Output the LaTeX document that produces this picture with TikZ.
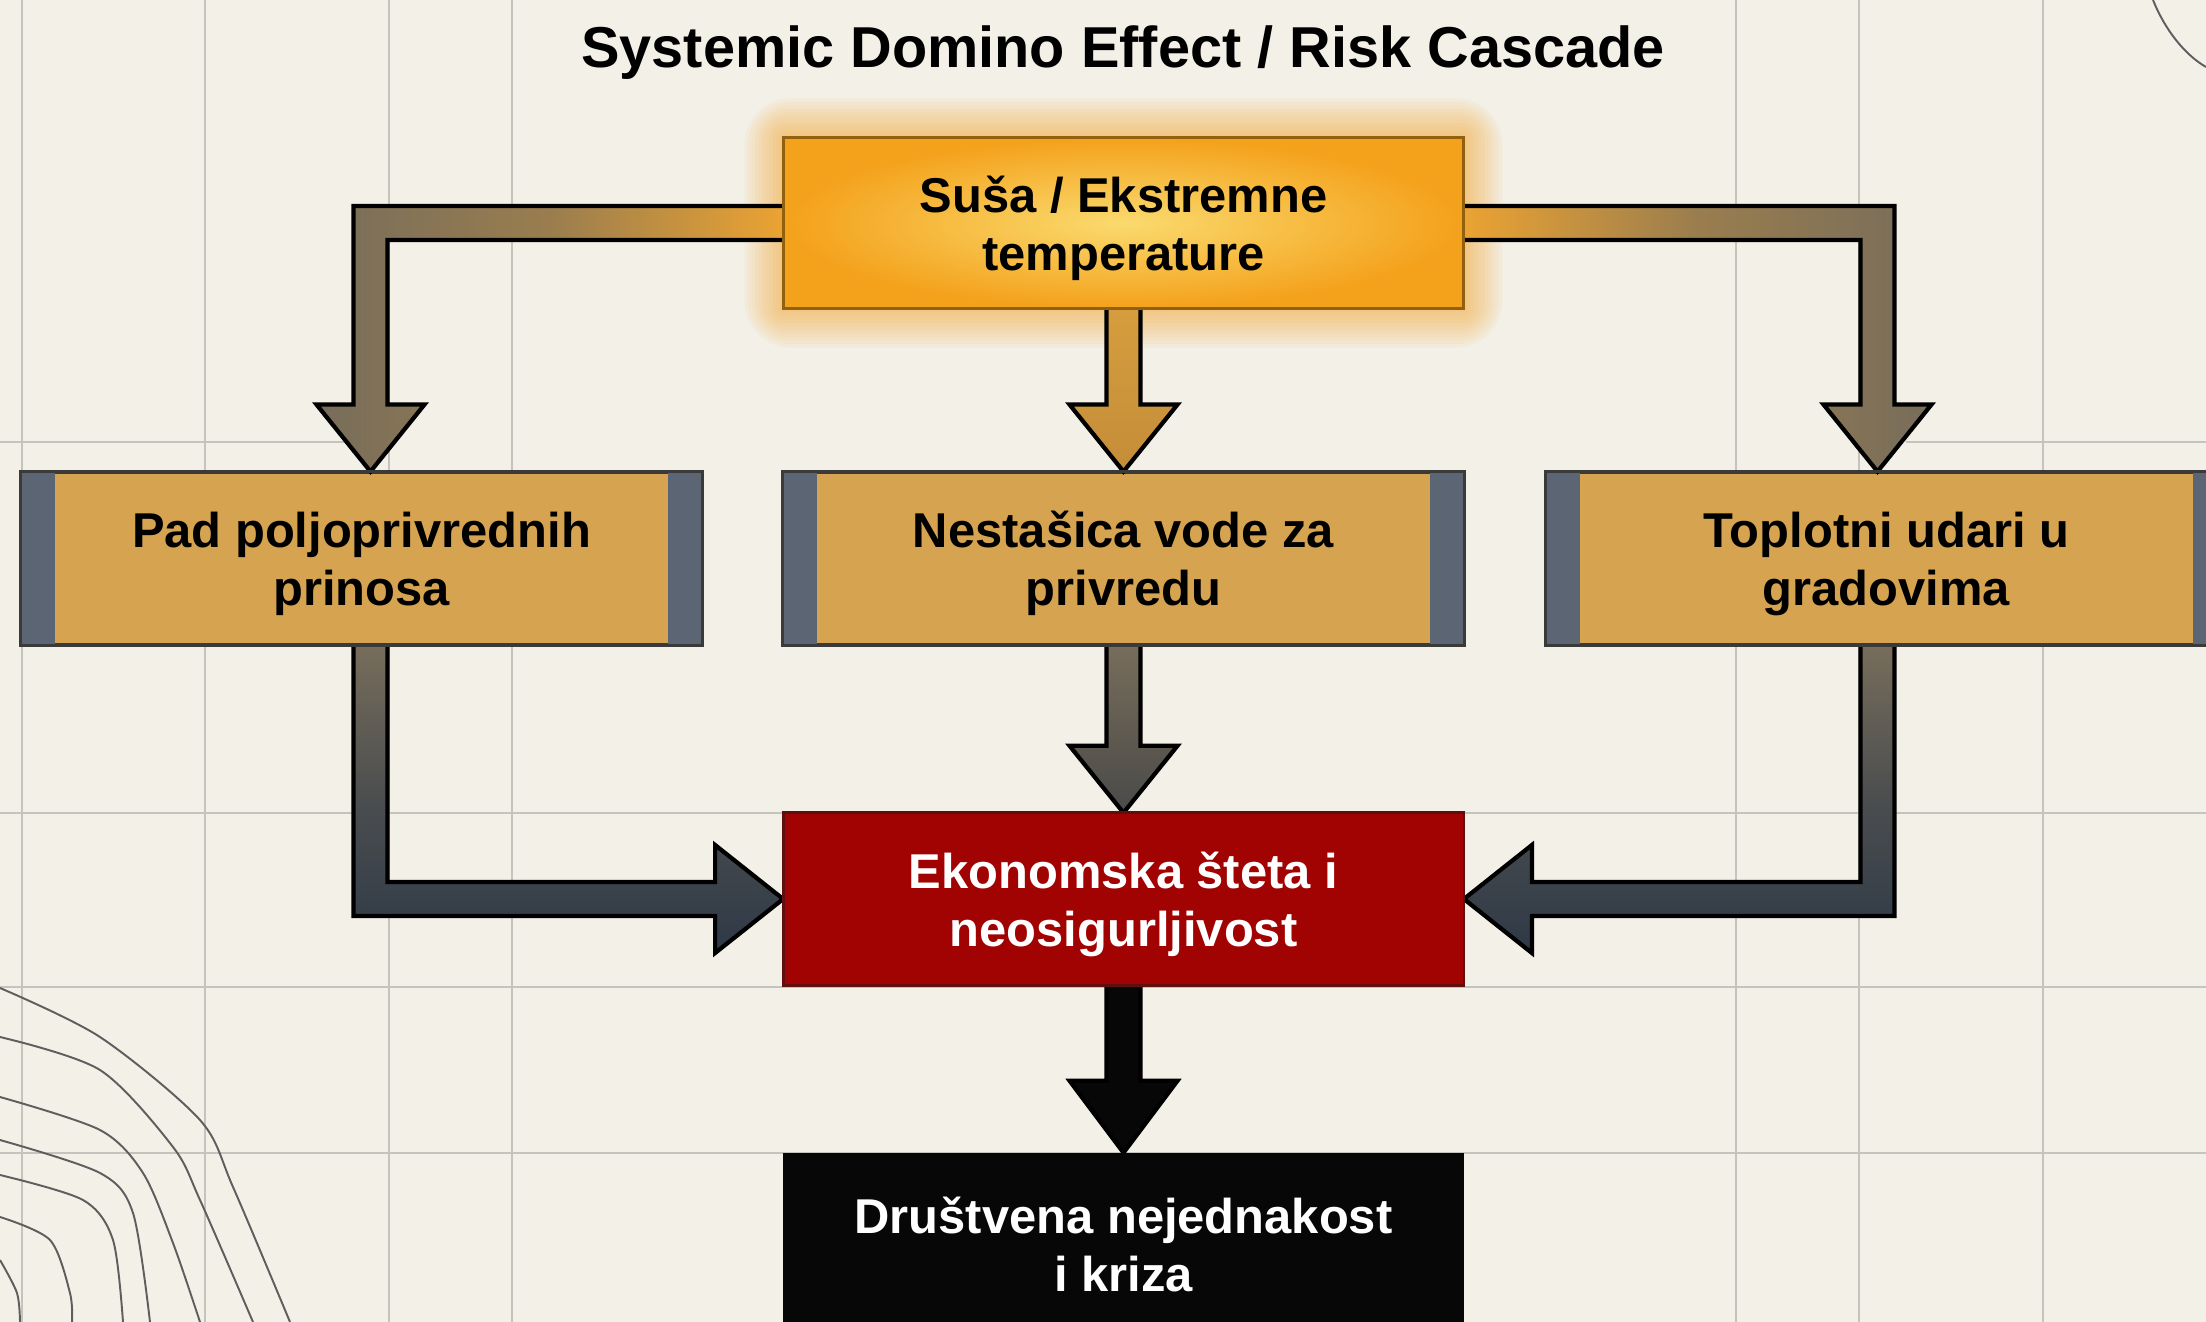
\documentclass[tikz,border=0pt]{standalone}
\usepackage{fontspec}
\setmainfont{Liberation Sans}
\usetikzlibrary{calc}
\definecolor{bg}{HTML}{F2F0E7}
\definecolor{gridc}{HTML}{C4C3BD}
\definecolor{contc}{HTML}{5E5E5E}
\definecolor{tan}{HTML}{D6A450}
\definecolor{stripec}{HTML}{5B6573}
\definecolor{boxline}{HTML}{3A3A3A}
\definecolor{orin}{HTML}{FADA6E}
\definecolor{orout}{HTML}{F4A11B}
\definecolor{glowc}{HTML}{F6A62A}
\definecolor{redc}{HTML}{A10303}
\definecolor{redline}{HTML}{5E1010}
\definecolor{blackc}{HTML}{070707}
\definecolor{agray}{HTML}{776D5B}
\definecolor{aorange}{HTML}{EBA332}
\definecolor{atan}{HTML}{D69D3E}
\definecolor{atan2}{HTML}{C48D38}
\definecolor{aslate}{HTML}{2E3947}
\definecolor{adark}{HTML}{4A4A48}
\begin{document}
\begin{tikzpicture}[x=0.01cm,y=-0.01cm,
  boxtext/.style={inner sep=0pt, align=center, minimum width=6.79cm, minimum height=1.71cm,
    font=\bfseries\fontsize{13.9}{16.5}\selectfont},
  label/.style={inner sep=0pt, align=center, yshift=-0.05cm,
    font=\bfseries\fontsize{13.9}{16.5}\selectfont},
  tanbox/.style={boxtext, fill=tan, draw=boxline, line width=0.8pt, text=black},
  stripe/.style={fill=stripec},
  fatarrow/.style={draw=black, line width=1.2pt, line join=miter},
  gridline/.style={draw=gridc, line width=0.8pt},
  contour/.style={draw=contc, line width=0.55pt}]
\useasboundingbox (0,0) rectangle (2206,1322);
\clip (0,0) rectangle (2206,1322);
\fill[bg] (0,0) rectangle (2206,1322);
% grid
\foreach \gx in {22,205,389,512,1736,1859,2043}
  \draw[gridline] (\gx,0) -- (\gx,1322);
\foreach \gy in {813,987,1153}
  \draw[gridline] (0,\gy) -- (2206,\gy);
\draw[gridline] (0,442) -- (389,442);
\draw[gridline] (1906,442) -- (2206,442);
% contour lines
\draw[contour] plot[smooth] coordinates {(0,988) (100,1037) (200,1120) (233,1187) (290,1322)};
\draw[contour] plot[smooth] coordinates {(0,1037) (100,1070) (173,1147) (200,1200) (253,1322)};
\draw[contour] plot[smooth] coordinates {(0,1097) (100,1130) (143,1173) (173,1243) (200,1322)};
\draw[contour] plot[smooth] coordinates {(0,1140) (100,1173) (133,1213) (150,1322)};
\draw[contour] plot[smooth] coordinates {(0,1175) (83,1200) (113,1240) (123,1322)};
\draw[contour] plot[smooth] coordinates {(0,1217) (50,1240) (70,1293) (72,1322)};
\draw[contour] plot[smooth] coordinates {(0,1260) (17,1293) (20,1322)};
\draw[contour] (2153,0) .. controls (2165,30) and (2185,55) .. (2206,67);
% title
\node[anchor=base, font=\bfseries\fontsize{16.4}{19}\selectfont] (title) at (1123,68) {Systemic Domino Effect / Risk Cascade};
% node placement (boxes)
\node[boxtext] (top) at (1123.5,223) {};
\foreach \i in {1,...,11}
  \fill[glowc, opacity=0.06, rounded corners=\i*1.2pt]
    ($(top.north west)+(-\i*3.5,-\i*3.5)$) rectangle ($(top.south east)+(\i*3.5,\i*3.5)$);
\node[tanbox] (pad) at (361.5,558.5) {};
\node[tanbox] (nes) at (1123.5,558.5) {};
\node[tanbox] (topl) at (1886.5,558.5) {};
\node[boxtext] (eco) at (1123.5,899) {};
\node[boxtext] (dru) at (1123.5,1239) {};
% arrows from top
\coordinate (tipL) at ($(pad.north)+(9,0)$);
\coordinate (cL) at (top.west -| tipL);
\path[fatarrow, left color=agray, right color=aorange, middle color=agray!70!aorange]
  ($(top.west)+(0,-17)$) -- ($(cL)+(-17,-17)$) -- ($(tipL)+(-17,-67)$) -- ($(tipL)+(-54,-67)$)
  -- (tipL) -- ($(tipL)+(54,-67)$) -- ($(tipL)+(17,-67)$) -- ($(cL)+(17,17)$) -- ($(top.west)+(0,17)$);
\coordinate (tipR) at ($(topl.north)+(-9,0)$);
\coordinate (cR) at (top.east -| tipR);
\path[fatarrow, right color=agray, left color=aorange, middle color=agray!70!aorange]
  ($(top.east)+(0,-17)$) -- ($(cR)+(17,-17)$) -- ($(tipR)+(17,-67)$) -- ($(tipR)+(54,-67)$)
  -- (tipR) -- ($(tipR)+(-54,-67)$) -- ($(tipR)+(-17,-67)$) -- ($(cR)+(-17,17)$) -- ($(top.east)+(0,17)$);
\path[fatarrow, top color=atan, bottom color=atan2]
  ($(top.south)+(-17,0)$) -- ($(nes.north)+(-17,-67)$) -- ($(nes.north)+(-54,-67)$) -- (nes.north)
  -- ($(nes.north)+(54,-67)$) -- ($(nes.north)+(17,-67)$) -- ($(top.south)+(17,0)$);
% arrows to economic box
\coordinate (sL) at ($(pad.south)+(9,0)$);
\coordinate (dL) at (sL |- eco.west);
\path[fatarrow, top color=agray, bottom color=aslate, middle color=agray!40!aslate]
  ($(sL)+(-17,0)$) -- ($(dL)+(-17,17)$) -- ($(eco.west)+(-68,17)$) -- ($(eco.west)+(-68,54)$)
  -- (eco.west) -- ($(eco.west)+(-68,-54)$) -- ($(eco.west)+(-68,-17)$) -- ($(dL)+(17,-17)$) -- ($(sL)+(17,0)$);
\coordinate (sR) at ($(topl.south)+(-9,0)$);
\coordinate (dR) at (sR |- eco.east);
\path[fatarrow, top color=agray, bottom color=aslate, middle color=agray!40!aslate]
  ($(sR)+(17,0)$) -- ($(dR)+(17,17)$) -- ($(eco.east)+(68,17)$) -- ($(eco.east)+(68,54)$)
  -- (eco.east) -- ($(eco.east)+(68,-54)$) -- ($(eco.east)+(68,-17)$) -- ($(dR)+(-17,-17)$) -- ($(sR)+(-17,0)$);
\path[fatarrow, top color=agray, bottom color=adark]
  ($(nes.south)+(-17,0)$) -- ($(eco.north)+(-17,-67)$) -- ($(eco.north)+(-54,-67)$) -- (eco.north)
  -- ($(eco.north)+(54,-67)$) -- ($(eco.north)+(17,-67)$) -- ($(nes.south)+(17,0)$);
\path[fatarrow, fill=blackc]
  ($(eco.south)+(-17,0)$) -- ($(dru.north)+(-17,-72)$) -- ($(dru.north)+(-54,-72)$) -- (dru.north)
  -- ($(dru.north)+(54,-72)$) -- ($(dru.north)+(17,-72)$) -- ($(eco.south)+(17,0)$);
% boxes on top
\node[boxtext, inner color=orin, outer color=orout, draw=orout!60!black, line width=0.8pt] at (top) {};
\foreach \b in {pad,nes,topl}{
  \fill[stripe] (\b.north west) rectangle ($(\b.south west)+(35,0)$);
  \fill[stripe] ($(\b.north east)+(-35,0)$) rectangle (\b.south east);
  \draw[boxline, line width=0.8pt] (\b.north west) rectangle (\b.south east);
}
\fill[redc] (eco.north west) rectangle (eco.south east);
\draw[redline, line width=0.8pt] (eco.north west) rectangle (eco.south east);
\fill[blackc] (dru.north west) rectangle (dru.south east);
\node[label] at (top) {Suša / Ekstremne\\temperature};
\node[label] at (pad) {Pad poljoprivrednih\\prinosa};
\node[label] at (nes) {Nestašica vode za\\privredu};
\node[label] at (topl) {Toplotni udari u\\gradovima};
\node[label, text=white] at (eco) {Ekonomska šteta i\\neosigurljivost};
\node[label, text=white] at (dru) {Društvena nejednakost\\i kriza};
\end{tikzpicture}
\end{document}
